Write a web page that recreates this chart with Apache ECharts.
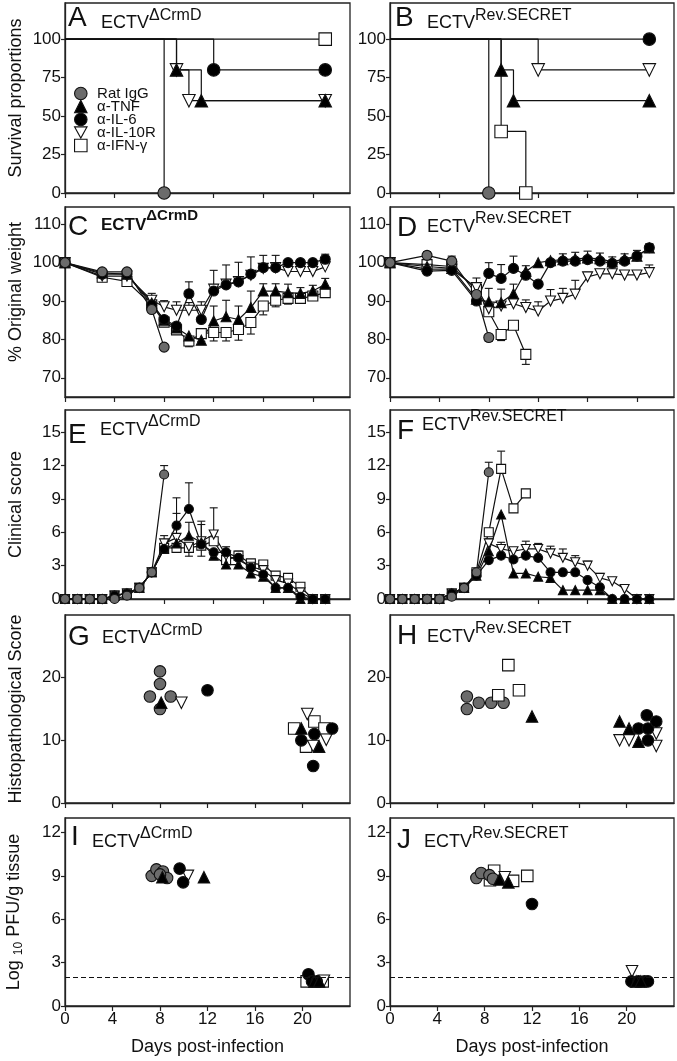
<!DOCTYPE html>
<html><head><meta charset="utf-8">
<script src="https://cdn.jsdelivr.net/npm/echarts@6/dist/echarts.min.js"></script>
<style>html,body{margin:0;padding:0;background:#fff}#c{width:677px;height:1061px}</style>
</head><body><div id="c"></div><script>
// ---------------- DATA ----------------
const GROUPS = ['Rat IgG', 'α-TNF', 'α-IL-6', 'α-IL-10R', 'α-IFN-γ'];
const PANEL_LETTERS = ['A','B','C','D','E','F','G','H','I','J'];
const PANEL_STRAINS = ['ΔCrmD','Rev.SECRET','ΔCrmD','Rev.SECRET','ΔCrmD','Rev.SECRET','ΔCrmD','Rev.SECRET','ΔCrmD','Rev.SECRET'];
const Y_NAMES = ['Survival proportions', '% Original weight', 'Clinical score', 'Histopathological Score', '{a|Log }{s|10}{a| PFU/g tissue}'];
const X_NAME = 'Days post-infection';
const X_TICKS = [0, 4, 8, 12, 16, 20];
const Y_TICKS = [[0,25,50,75,100],[70,80,90,100,110],[0,3,6,9,12,15],[0,10,20],[0,3,6,9,12]];
const DETECTION_LIMIT = 2;

// Survival (Kaplan-Meier) [day, % surviving]
const survA_rat   = [[0,100],[8,0]];
const survA_tnf   = [[0,100],[9,80],[11,60],[21,60]];
const survA_il6   = [[0,100],[12,80],[21,80]];
const survA_il10r = [[0,100],[9,80],[10,60],[21,60]];
const survA_ifn   = [[0,100],[21,100]];
const survB_rat   = [[0,100],[8,0]];
const survB_tnf   = [[0,100],[9,80],[10,60],[21,60]];
const survB_il6   = [[0,100],[21,100]];
const survB_il10r = [[0,100],[12,80],[21,80]];
const survB_ifn   = [[0,100],[9,40],[11,0]];

// Weight (% original)
const weightDays = [0,3,5,7,8,9,10,11,12,13,14,15,16,17,18,19,20,21];
const wC_rat   = [100,97.6,97.6,87.8,78.0];
const wC_tnf   = [100,97.3,97.0,89.5,85.0,83.0,80.9,79.8,84.8,85.9,85.2,88.3,92.6,92.6,92.2,92.0,92.6,94.4];
const wC_il6   = [100,97.0,97.0,89.0,85.2,83.5,91.9,85.2,92.6,94.2,95.0,97.0,98.7,98.7,100.0,100.0,100.0,100.9];
const wC_il10r = [100,96.5,96.5,90.2,88.5,87.6,87.6,87.6,93.1,94.4,95.1,96.7,98.5,98.7,97.7,97.7,97.7,98.9];
const wC_ifn   = [100,96.2,95.1,89.0,84.5,82.5,79.6,81.5,81.8,81.8,82.6,84.4,88.7,90.2,90.7,90.7,91.3,92.2];
const eC_tnf   = [0,0,0,0,0,0,0,0,3.9,4.3,3.5,4.3,1.9,1.9,2.2,1.5,1.5,1.5];
const eC_il6   = [0,0,0,0,0,0,3.1,2.6,0,0,0,0,0,0,0,0,0,1.3];
const eC_il10r = [0,0,0,1.8,1.6,2.2,2.0,2.2,4.9,5.0,5.0,4.8,3.4,3.2,2.0,1.5,1.5,1.5];
const eC_ifn   = [0,0,0,0,0,-1.0,-1.5,-2.0,-2.2,-2.2,-2.8,-3.0,-2.3,-1.7,-1.5,-1.2,-1.0,-1.0];

const wD_rat   = [100,101.9,100.4,91.7,80.5];
const wD_tnf   = [100,99.0,98.5,90.5,89.8,89.6,91.9,97.7,100.0,100.5,100.8,101.0,101.2,101.0,100.2,101.0,101.7,103.8];
const wD_il6   = [100,97.8,98.0,90.0,97.2,95.9,98.5,96.7,94.4,100.0,100.4,100.4,100.8,100.4,99.8,100.4,101.7,103.9];
const wD_il10r = [100,98.3,98.3,93.5,88.0,88.7,89.3,88.3,87.4,90.0,90.7,91.8,96.3,97.1,97.1,96.8,96.8,97.4];
const wD_ifn   = [100,99.5,99.0,93.0,87.2,81.3,83.7,76.1];
const eD_rat   = [0,1.0,1.3,0,-1.0];
const eD_tnf   = [0,0,0,0,3.5,3.5,2.5,0,0,0,1.5,1.7,1.8,1.5,1.3,1.3,1.5,1.0];
const eD_il6   = [0,0,0,0,2.8,3.6,3.2,2.5,0,0,0,0,0,0,0,0,0,1.0];
const eD_il10r = [0,0,0,2.5,0,0,0,2.0,2.4,3.0,2.6,3.6,1.2,1.0,1.0,1.0,1.0,2.0];
const eD_ifn   = [0,0,0,0,0,-1.6,0,-2.6];

// Clinical score
const clinicalDays = [0,1,2,3,4,5,6,7,8,9,10,11,12,13,14,15,16,17,18,19,20,21];
const cE_rat   = [0,0,0,0,0,0.3,1.0,2.4,11.2];
const cE_tnf   = [0,0,0,0,0.3,0.5,1.0,2.4,4.5,5.0,5.7,5.1,3.9,3.1,3.1,2.3,2.0,1.0,1.0,0,0,0];
const cE_il6   = [0,0,0,0,0.3,0.5,1.0,2.4,4.5,6.6,8.1,4.9,4.2,4.2,3.7,2.8,2.2,1.0,1.0,0.2,0,0];
const cE_il10r = [0,0,0,0,0.3,0.5,1.0,2.4,5.0,5.5,4.7,5.2,5.8,3.9,3.5,2.9,2.6,1.7,1.4,0.6,0,0];
const cE_ifn   = [0,0,0,0,0.3,0.5,1.0,2.4,4.6,4.6,4.6,4.8,5.2,3.5,3.9,3.2,3.1,2.1,1.9,1.1,0,0];
const eE_rat   = [0,0,0,0,0,0,0,0,0.8];
const eE_tnf   = [0,0,0,0,0,0,0,0,0,2.7,1.2,0,0,0,0,0,0,0,0,0,0,0];
const eE_il6   = [0,0,0,0,0,0,0,0,0,2.5,2.35,2.1,0,0.5,0.6,0,0,0,0,0,0,0];
const eE_il10r = [0,0,0,0,0,0,0,0,0,0,-0.85,1.5,2.4,0,0,0,0,0,0,0,0,0];
const eE_ifn   = [0,0,0,0,0,0,0,0,1.1,0,0,-0.95,0,0,0,0,0,0,0,0,0,0];

const cF_rat   = [0,0,0,0,0,0.2,1.0,2.4,11.4];
const cF_tnf   = [0,0,0,0,0,0.5,1.0,2.1,4.3,7.6,2.3,2.3,2.0,1.9,0.8,0.8,0.8,0.8,0,0,0,0];
const cF_il6   = [0,0,0,0,0,0.5,1.0,2.1,3.5,3.9,3.55,3.9,3.7,2.4,2.4,2.4,1.7,1.05,0,0,0,0];
const cF_il10r = [0,0,0,0,0,0.5,1.0,2.2,5.0,4.5,4.3,4.5,4.5,4.1,3.7,3.3,3.0,1.9,1.6,0.9,0,0];
const cF_ifn   = [0,0,0,0,0,0.5,1.0,2.4,6.0,11.7,8.15,9.5];
const eF_rat   = [0,0,0,0,0,0,0,0,0.9];
const eF_il10r = [0,0,0,0,0,0,0,0,0.4,0.6,0,0.7,0.5,0.65,0.8,0.6,0.4,0.4,0,0,0,0];
const eF_ifn   = [0,0,0,0,0,0,0,0,0,1.6,0,0];

// Histopathological score [day, score]
const hG_rat   = [[8,21],[8,19],[7.15,17],[8.9,17],[8,15]];
const hG_tnf   = [[8.1,16],[19.9,11.9],[21.4,9]];
const hG_il6   = [[12,18],[19.9,10],[21,11],[22.5,11.9],[20.9,5.9]];
const hG_il10r = [[9.8,16],[20.4,14.2],[22,10.1],[20.9,9.1]];
const hG_ifn   = [[19.3,11.9],[21,13],[21.85,11.9],[20.3,9]];
const hH_rat   = [[6.5,17],[6.5,15],[7.5,16],[8.55,16],[9.6,16]];
const hH_tnf   = [[12,13.8],[19.4,13],[20.2,11.9],[21,9.8]];
const hH_il6   = [[21.7,14],[21,11.9],[21.8,11.9],[22.5,13],[21.8,10]];
const hH_il10r = [[19.4,10],[20.2,10],[22.5,11.1],[22.5,9.1]];
const hH_ifn   = [[9.15,17.2],[10,22],[10.9,18]];

// Log10 PFU/g tissue [day, log titre]
const vI_rat   = [[7.3,9.0],[7.7,9.45],[8.25,9.3],[8.6,8.85],[8.0,9.1]];
const vI_tnf   = [[8.2,8.9],[11.7,8.9],[21.0,1.7],[21.4,1.7]];
const vI_il6   = [[9.65,9.5],[9.95,8.55],[20.5,2.2],[20.8,1.7],[21.2,1.7]];
const vI_il10r = [[10.35,9.0],[21.8,1.75]];
const vI_ifn   = [[20.35,1.7],[21.7,1.7]];
const vJ_rat   = [[7.3,8.85],[7.7,9.2],[8.4,9.05],[8.7,8.8]];
const vJ_tnf   = [[9.25,8.75],[10.0,8.55],[20.8,1.7],[21.2,1.7]];
const vJ_il6   = [[12,7.05],[20.4,1.7],[21.0,1.7],[21.5,1.7],[21.8,1.7]];
const vJ_il10r = [[9.7,8.9],[20.45,2.4]];
const vJ_ifn   = [[8.8,9.35],[8.45,8.7],[10.4,8.65],[11.6,9.0]];

// ---------------- STYLE / LAYOUT ----------------
const FONT = '"Liberation Sans", Arial, Helvetica, sans-serif';
const INK = '#111';
const DOWN = 'path://M0,0L10,0L5,9Z';
const STY = {
  'Rat IgG':  {symbol:'circle',   fill:'#6b6b6b'},
  'α-TNF':    {symbol:'triangle', fill:'#000'},
  'α-IL-6':   {symbol:'circle',   fill:'#000'},
  'α-IL-10R': {symbol:DOWN,       fill:'#fff'},
  'α-IFN-γ':  {symbol:'rect',     fill:'#fff'}
};
const COLS = [{left:65, width:285}, {left:390, width:284}];
const ROWS = [{top:3,height:190},{top:207,height:190},{top:410,height:189},{top:615,height:188},{top:818,height:188}];
const Y_RANGE = [[0,123.5],[65,114.5],[0,17],[0,30],[0,13]];
const Y_NAME_PAD = [0, 20, 0, 0, 0];
const LABEL_POS = [
  {lx:68, ly:18.5, tx:101, ty:19.6}, {lx:395, ly:18, tx:427, ty:19.6},
  {lx:68, ly:227, tx:101, ty:221.3}, {lx:397, ly:228, tx:427, ty:223.3},
  {lx:68, ly:435, tx:100, ty:426.3}, {lx:397, ly:431, tx:422, ty:421.3},
  {lx:68, ly:637, tx:102, ty:634.8}, {lx:397, ly:636, tx:427, ty:633.3},
  {lx:71, ly:837.5, tx:92, ty:838.3}, {lx:397, ly:840, tx:424, ty:838.3}
];

const grid = [], xAxis = [], yAxis = [], series = [], graphic = [];
ROWS.forEach((r, ri) => COLS.forEach((c, ci) => {
  const gi = ri * 2 + ci;
  grid.push({left:c.left, width:c.width, top:r.top, height:r.height, show:true,
    borderColor:'#222', borderWidth:1.3, backgroundColor:'transparent'});
  xAxis.push({type:'value', gridIndex:gi, min:0, max: ri < 3 ? 23 : 24,
    axisLine:{show:true, onZero:false, lineStyle:{color:'#222', width:1.3}},
    axisTick:{show:true, length:5, customValues:X_TICKS, lineStyle:{color:'#222', width:1.2}},
    axisLabel:{show: ri === 4, customValues:X_TICKS, margin:5, fontSize:17, color:INK, fontFamily:FONT},
    splitLine:{show:false},
    name: ri === 4 ? X_NAME : '', nameLocation:'middle', nameGap:32,
    nameTextStyle:{fontSize:18, color:INK, fontFamily:FONT}
  });
  yAxis.push({type:'value', gridIndex:gi, min:Y_RANGE[ri][0], max:Y_RANGE[ri][1],
    axisLine:{show:true, onZero:false, lineStyle:{color:'#222', width:1.3}},
    axisTick:{show:true, length:4, customValues:Y_TICKS[ri], lineStyle:{color:'#222', width:1.2}},
    axisLabel:{show:true, customValues:Y_TICKS[ri], margin:4, fontSize:17, color:INK, fontFamily:FONT},
    splitLine:{show:false},
    name: ci === 0 ? Y_NAMES[ri] : '', nameLocation:'middle', nameGap:40,
    nameTextStyle:{fontSize:18, color:INK, fontFamily:FONT, padding:[0, 0, 0, Y_NAME_PAD[ri]],
      rich:{a:{fontSize:18, fontFamily:FONT, color:INK, lineHeight:22},
            s:{fontSize:12, fontFamily:FONT, color:INK, lineHeight:12, verticalAlign:'bottom'}}}
  });
}));

function mk(gi, name, type, data, size, extra) {
  const st = STY[name];
  const s = Object.assign({
    type, name, xAxisIndex:gi, yAxisIndex:gi, data,
    symbol:st.symbol, symbolSize:size,
    itemStyle:{color:st.fill, borderColor:INK, borderWidth:1.1, opacity:1},
    lineStyle:{color:INK, width:1.2},
    emphasis:{disabled:true}, silent:true, clip:false, animation:false, z:3
  }, extra || {});
  series.push(s);
  return s;
}
function errSeries(gi, data) {
  return {type:'custom', xAxisIndex:gi, yAxisIndex:gi, data, z:2, silent:true, clip:false, animation:false,
    renderItem:(params, api) => {
      const x = api.value(0), y = api.value(1), e = api.value(2);
      const a = api.coord([x, y]), b = api.coord([x, y + e]);
      const w = 4;
      return {type:'group', children:[
        {type:'line', shape:{x1:a[0], y1:a[1], x2:b[0], y2:b[1]}, style:{stroke:INK, lineWidth:1.1}},
        {type:'line', shape:{x1:b[0]-w, y1:b[1], x2:b[0]+w, y2:b[1]}, style:{stroke:INK, lineWidth:1.1}}
      ]};
    }};
}
function addSurvival(gi, sets) {
  sets.forEach(([name, pts]) => mk(gi, name, 'line',
    pts.map((p, i) => i === 0 ? {value:p, symbol:'none'} : p), 12.5, {step:'end', showAllSymbol:true}));
}
function addTime(gi, days, sets, size) {
  sets.forEach(([name, vals, errs]) => {
    if (errs) {
      const ed = [];
      errs.forEach((e, i) => { if (e && i < vals.length) ed.push([days[i], vals[i], e]); });
      if (ed.length) series.push(errSeries(gi, ed));
    }
    mk(gi, name, 'line', vals.map((v, i) => [days[i], v]), size, {showAllSymbol:true});
  });
}
function addScatter(gi, sets, size, extra) {
  sets.forEach(([name, pts], k) => mk(gi, name, 'scatter', pts, size, k === 0 ? extra : null));
}

addSurvival(0, [['α-IFN-γ', survA_ifn], ['α-IL-6', survA_il6], ['α-IL-10R', survA_il10r], ['α-TNF', survA_tnf], ['Rat IgG', survA_rat]]);
addSurvival(1, [['α-IL-6', survB_il6], ['α-IL-10R', survB_il10r], ['α-TNF', survB_tnf], ['α-IFN-γ', survB_ifn], ['Rat IgG', survB_rat]]);

addTime(2, weightDays, [['α-IFN-γ', wC_ifn, eC_ifn], ['α-IL-10R', wC_il10r, eC_il10r], ['α-TNF', wC_tnf, eC_tnf], ['α-IL-6', wC_il6, eC_il6], ['Rat IgG', wC_rat, null]], 10);
addTime(3, weightDays, [['α-IFN-γ', wD_ifn, eD_ifn], ['α-IL-10R', wD_il10r, eD_il10r], ['α-TNF', wD_tnf, eD_tnf], ['α-IL-6', wD_il6, eD_il6], ['Rat IgG', wD_rat, eD_rat]], 10);
addTime(4, clinicalDays, [['α-IFN-γ', cE_ifn, eE_ifn], ['α-IL-10R', cE_il10r, eE_il10r], ['α-TNF', cE_tnf, eE_tnf], ['α-IL-6', cE_il6, eE_il6], ['Rat IgG', cE_rat, eE_rat]], 9);
addTime(5, clinicalDays, [['α-IFN-γ', cF_ifn, eF_ifn], ['α-IL-10R', cF_il10r, eF_il10r], ['α-TNF', cF_tnf, null], ['α-IL-6', cF_il6, null], ['Rat IgG', cF_rat, eF_rat]], 9);

addScatter(6, [['Rat IgG', hG_rat], ['α-IFN-γ', hG_ifn], ['α-IL-10R', hG_il10r], ['α-IL-6', hG_il6], ['α-TNF', hG_tnf]], 11.5);
addScatter(7, [['Rat IgG', hH_rat], ['α-IFN-γ', hH_ifn], ['α-IL-10R', hH_il10r], ['α-IL-6', hH_il6], ['α-TNF', hH_tnf]], 11.5);
const limitLine = {markLine:{silent:true, symbol:'none', animation:false, label:{show:false},
  lineStyle:{type:[5,3], color:INK, width:1}, data:[{yAxis:DETECTION_LIMIT}]}};
addScatter(8, [['α-IFN-γ', vI_ifn], ['Rat IgG', vI_rat], ['α-IL-10R', vI_il10r], ['α-IL-6', vI_il6], ['α-TNF', vI_tnf]], 11.5, limitLine);
addScatter(9, [['α-IFN-γ', vJ_ifn], ['Rat IgG', vJ_rat], ['α-IL-10R', vJ_il10r], ['α-IL-6', vJ_il6], ['α-TNF', vJ_tnf]], 11.5, limitLine);

// panel letters and strain titles
PANEL_LETTERS.forEach((L, i) => {
  const p = LABEL_POS[i];
  const bold = i === 2 ? 'bold' : 'normal';
  graphic.push({type:'text', x:p.lx, y:p.ly, silent:true,
    style:{text:L, fontSize:28, fontFamily:FONT, fill:INK, align:'left', verticalAlign:'middle'}});
  graphic.push({type:'text', x:p.tx, y:p.ty, silent:true,
    style:{text:'{e|ECTV}{s|' + PANEL_STRAINS[i] + '}', fill:INK, align:'left', verticalAlign:'middle',
      rich:{e:{fontSize: i === 2 ? 17 : 18, fontWeight:bold, fontFamily:FONT, fill:INK, lineHeight:25, verticalAlign:'bottom'},
            s:{fontSize: i === 2 ? 15 : 16, fontWeight:bold, fontFamily:FONT, fill:INK, lineHeight:14, verticalAlign:'top'}}}});
});

const option = {
  animation:false,
  backgroundColor:'#fff',
  textStyle:{fontFamily:FONT},
  grid, xAxis, yAxis, series, graphic,
  legend:{
    orient:'vertical', left:74, top:86, padding:0, itemGap:-2, itemWidth:12.5, itemHeight:12.5,
    selectedMode:false,
    textStyle:{fontFamily:FONT, fontSize:15, color:INK, lineHeight:13, padding:[0,0,0,5]},
    data: GROUPS.map(n => ({name:n, icon:STY[n].symbol,
      itemStyle:{color:STY[n].fill, borderColor:INK, borderWidth:1.1}}))
  }
};
const chart = echarts.init(document.getElementById('c'), null, {renderer:'canvas'});
chart.setOption(option);
</script></body></html>
